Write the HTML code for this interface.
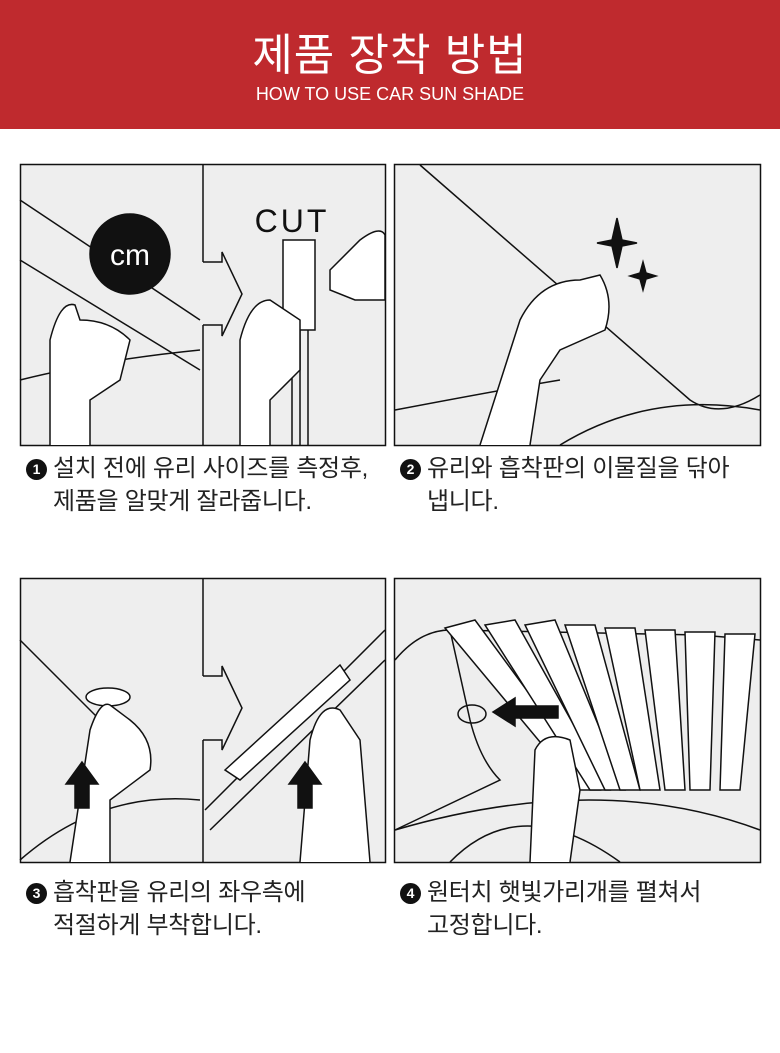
<!DOCTYPE html>
<html><head><meta charset="utf-8">
<style>
body{margin:0;width:780px;height:1053px;background:#fff;position:relative;overflow:hidden;font-family:"Liberation Sans","Noto Sans CJK KR",sans-serif;}
.hdr{position:absolute;left:0;top:0;width:780px;height:129px;background:#bf2a2e;color:#fff;text-align:center;}
.t1{position:absolute;top:31px;width:100%;font-size:44px;font-weight:400;line-height:50px;letter-spacing:1px}
.t2{position:absolute;top:84px;width:100%;font-size:18px;line-height:20px}
.cap{position:absolute;font-size:24px;line-height:33px;color:#222;letter-spacing:-0.3px}
.cap b{display:inline-block;width:21px;height:21px;border-radius:50%;background:#111;color:#fff;font-size:14px;line-height:21px;text-align:center;vertical-align:2px;margin-right:6px;font-weight:bold;letter-spacing:0}
svg{position:absolute;left:0;top:0}
</style></head><body>
<div class="hdr"><div class="t1">제품 장착 방법</div><div class="t2">HOW TO USE CAR SUN SHADE</div></div>
<svg width="780" height="1053" fill="none" stroke="#111" stroke-width="1.5">
<g fill="#eeeeee" stroke="#111" stroke-width="1.5">
<rect x="20.5" y="164.5" width="365" height="281"/>
<rect x="394.5" y="164.5" width="366" height="281"/>
<rect x="20.5" y="578.5" width="365" height="284"/>
<rect x="394.5" y="578.5" width="366" height="284"/>
</g>
<line x1="203" y1="165" x2="203" y2="262"/><line x1="203" y1="325" x2="203" y2="445"/>
<path d="M203 262 L222 262 L222 252 L242 294 L222 336 L222 325 L203 325" fill="#eee"/>
<path d="M20 200 L200 320 M20 260 L200 370 M20 380 Q100 360 200 350"/>
<circle cx="130" cy="254" r="40" fill="#111"/>
<text x="130" y="265" fill="#fff" stroke="none" font-size="30" text-anchor="middle" font-family="Liberation Sans">cm</text>
<path d="M50 445 L50 340 Q60 300 75 305 L80 320 Q110 320 130 340 L120 380 L90 400 L90 445" fill="#fff"/>
<text x="292" y="232" stroke="none" fill="#111" font-size="32" text-anchor="middle" letter-spacing="3" font-family="Liberation Sans">CUT</text>
<rect x="283" y="240" width="32" height="90" fill="#fff"/>
<path d="M292 330 L292 445 M300 330 L300 445 M308 330 L308 445"/>
<path d="M240 445 L240 340 Q250 300 270 300 L300 320 L300 370 L270 400 L270 445" fill="#fff"/>
<path d="M330 270 L360 240 Q380 225 385 235 L385 300 L355 300 L330 290Z" fill="#fff"/>
<path d="M420 165 L690 400 Q720 420 760 395 M395 410 Q500 390 560 380 M560 445 Q650 390 760 410"/>
<path d="M480 445 L520 320 Q540 280 580 280 L600 275 Q615 300 605 330 L560 350 L540 380 L530 445" fill="#fff"/>
<path d="M617 218 L622 240 L637 243 L622 246 L617 268 L612 246 L597 243 L612 240Z" fill="#111"/>
<path d="M643 262 L646 273 L656 276 L646 279 L643 290 L640 279 L630 276 L640 273Z" fill="#111"/>
<line x1="203" y1="579" x2="203" y2="676"/><line x1="203" y1="740" x2="203" y2="862"/>
<path d="M203 676 L222 676 L222 666 L242 708 L222 750 L222 740 L203 740" fill="#eee"/>
<path d="M20 640 L140 760 M20 860 Q100 790 200 800"/>
<ellipse cx="108" cy="697" rx="22" ry="9" fill="#fff"/>
<path d="M70 862 L90 730 Q100 700 110 705 L130 720 Q155 740 150 770 L110 800 L110 862" fill="#fff"/>
<path d="M82 762 L66 784 L75 784 L75 808 L89 808 L89 784 L98 784Z" fill="#111"/>
<path d="M205 810 L385 630 M210 830 L385 660"/>
<path d="M225 770 L340 665 L350 680 L240 780Z" fill="#fff"/>
<path d="M300 862 L310 740 Q320 700 340 710 L360 740 L370 862" fill="#fff"/>
<path d="M305 762 L289 784 L298 784 L298 808 L312 808 L312 784 L321 784Z" fill="#111"/>
<path d="M395 660 Q420 630 450 630 L470 720 Q480 760 500 780 L395 830"/>
<path d="M450 630 L700 635 L760 640 M395 830 Q600 770 760 830 M450 862 Q520 790 620 862"/>
<g fill="#fff">
<path d="M445 628 L475 620 L600 790 L580 790Z"/>
<path d="M485 625 L515 620 L610 790 L590 790Z"/>
<path d="M525 625 L555 620 L625 790 L605 790Z"/>
<path d="M565 625 L595 625 L640 790 L620 790Z"/>
<path d="M605 628 L635 628 L660 790 L640 790Z"/>
<path d="M645 630 L675 630 L685 790 L665 790Z"/>
<path d="M685 632 L715 632 L710 790 L690 790Z"/>
<path d="M725 634 L755 634 L740 790 L720 790Z"/>
</g>
<ellipse cx="472" cy="714" rx="14" ry="9"/>
<path d="M493 712 L515 698 L515 706 L558 706 L558 718 L515 718 L515 726Z" fill="#111"/>
<path d="M530 862 L535 750 Q545 730 570 740 L580 790 L570 862" fill="#fff"/>
</svg>
<div class="cap" style="left:26px;top:452px"><b>1</b>설치 전에 유리 사이즈를 측정후,<br><span style="padding-left:27px">제품을 알맞게 잘라줍니다.</span></div>
<div class="cap" style="left:400px;top:452px"><b>2</b>유리와 흡착판의 이물질을 닦아<br><span style="padding-left:27px">냅니다.</span></div>
<div class="cap" style="left:26px;top:876px"><b>3</b>흡착판을 유리의 좌우측에<br><span style="padding-left:27px">적절하게 부착합니다.</span></div>
<div class="cap" style="left:400px;top:876px"><b>4</b>원터치 햇빛가리개를 펼쳐서<br><span style="padding-left:27px">고정합니다.</span></div>
</body></html>
